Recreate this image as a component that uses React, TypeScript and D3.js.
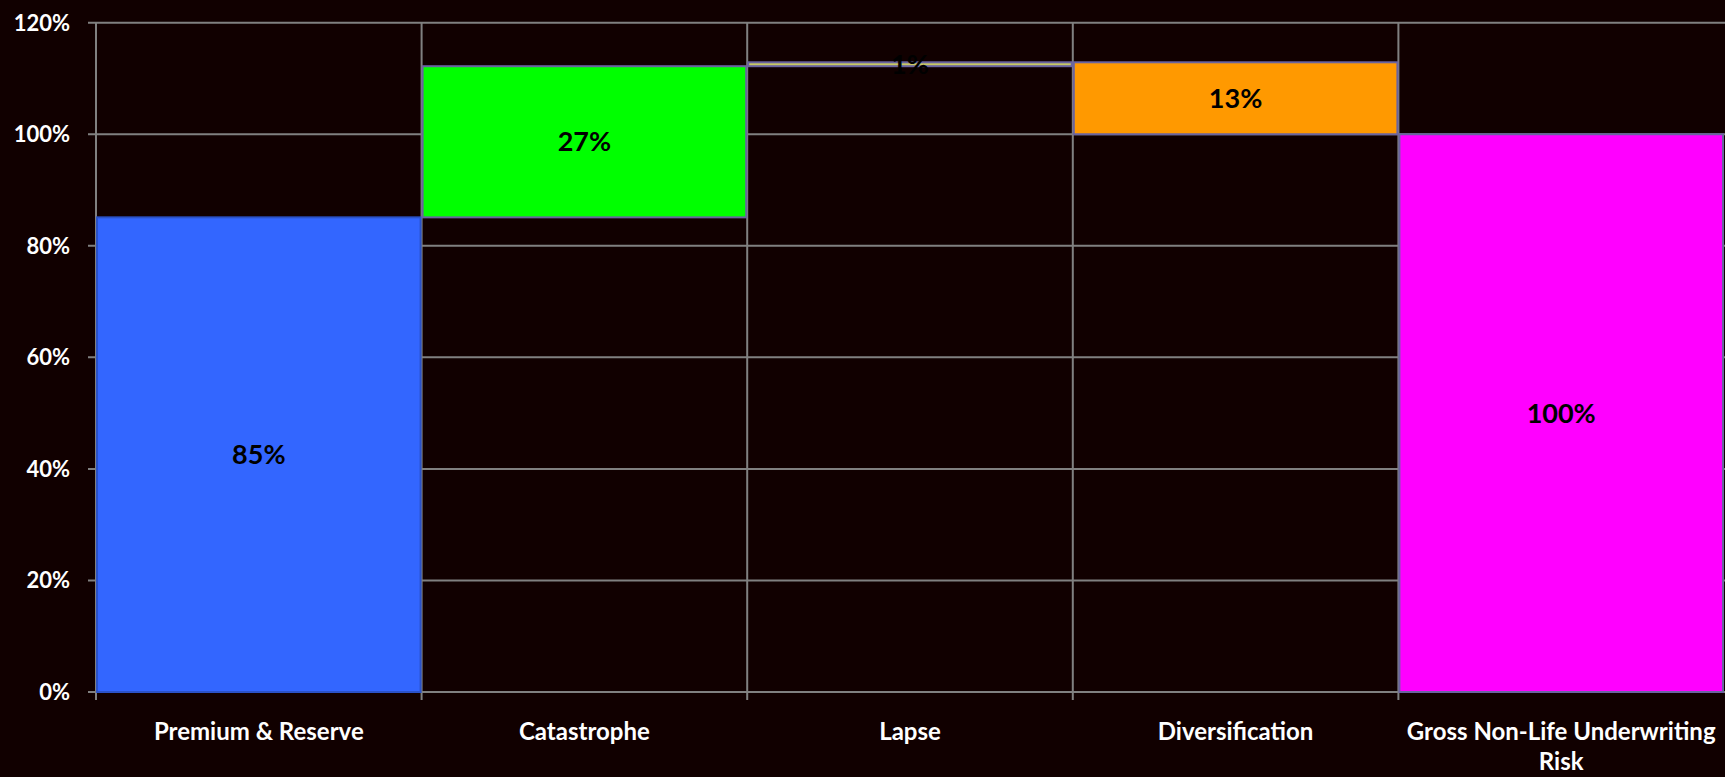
import React from "react";
import * as d3 from "d3";

const categories = [
  "Premium & Reserve",
  "Catastrophe",
  "Lapse",
  "Diversification",
  "Gross Non-Life Underwriting Risk",
];
// step values (last is the total)
const values = [85.1, 27.1, 0.7, -12.9, 100];
const isTotal = [false, false, false, false, true];
const valueLabels = ["85%", "27%", "1%", "13%", "100%"];
const fills = ["#3366FF", "#00FF00", "#C8C864", "#FF9900", "#FF00FF"];
const strokes = ["#2B52C8", "#6A64A0", "#6A64A0", "#6A64A0", "#6A64A0"];
const yTicks = [0, 20, 40, 60, 80, 100, 120];

const W = 1725;
const H = 777;
const FONT = "Lato, 'Open Sans', 'DejaVu Sans', sans-serif";
const BG = "#110000";
const GRID = "#808080";
const CAT_SIZE = 24;

function measure(text: string, size: number) {
  const c = document.createElement("canvas").getContext("2d")!;
  c.font = `bold ${size}px Lato`;
  return c.measureText(text).width;
}

function wrap(text: string, maxW: number, size: number): string[] {
  const words = text.split(" ");
  const lines: string[] = [];
  let cur = "";
  for (const w of words) {
    const t = cur ? cur + " " + w : w;
    if (measure(t, size) > maxW && cur) {
      lines.push(cur);
      cur = w;
    } else cur = t;
  }
  if (cur) lines.push(cur);
  return lines;
}

export default function App() {
  const x = d3.scaleBand<string>().domain(categories).range([96, 1724]).padding(0);
  const y = d3.scaleLinear().domain([0, 120]).range([692, 22.7]);

  let run = 0;
  const segs = values.map((v, i) => {
    let a: number, b: number;
    if (isTotal[i]) {
      a = 0;
      b = v;
      run = v;
    } else {
      a = run;
      b = run + v;
      run = b;
    }
    return { cat: categories[i], lo: Math.min(a, b), hi: Math.max(a, b), i };
  });

  const bw = x.bandwidth();
  const boundaries = categories.map((c) => x(c)!);

  return (
    <svg
      width={W}
      height={H}
      style={{ position: "absolute", left: 0, top: 0, background: BG }}
    >
      <rect x={0} y={0} width={W} height={H} fill={BG} />
      {/* horizontal gridlines + ticks */}
      {yTicks.map((t) => (
        <g key={t}>
          <line x1={88} x2={W} y1={y(t)} y2={y(t)} stroke={GRID} strokeWidth={2} />
          <text
            x={70}
            y={y(t)}
            dy="0.36em"
            textAnchor="end"
            fill="#ffffff"
            fontFamily={FONT}
            fontWeight="bold"
            fontSize={22}
          >
            {t}%
          </text>
        </g>
      ))}
      {/* vertical gridlines + ticks */}
      {boundaries.map((bx, i) => (
        <line key={i} x1={bx} x2={bx} y1={y(120)} y2={700} stroke={GRID} strokeWidth={2} />
      ))}
      {/* bars */}
      {segs.map((s) => (
        <rect
          key={s.cat}
          x={x(s.cat)! + 1}
          y={y(s.hi)}
          width={bw - 2}
          height={Math.max(1, y(s.lo) - y(s.hi))}
          fill={fills[s.i]}
          stroke={strokes[s.i]}
          strokeWidth={2}
        />
      ))}
      {/* value labels */}
      {segs.map((s) => (
        <text
          key={"l" + s.cat}
          x={x(s.cat)! + bw / 2}
          y={(y(s.hi) + y(s.lo)) / 2}
          dy="0.36em"
          textAnchor="middle"
          fill="#000000"
          fontFamily={FONT}
          fontWeight="bold"
          fontSize={27}
        >
          {valueLabels[s.i]}
        </text>
      ))}
      {/* category labels */}
      {categories.map((c) => {
        const lines = wrap(c, bw, CAT_SIZE);
        return (
          <text
            key={"c" + c}
            x={x(c)! + bw / 2}
            y={740}
            textAnchor="middle"
            fill="#ffffff"
            fontFamily={FONT}
            fontWeight="bold"
            fontSize={CAT_SIZE}
          >
            {lines.map((ln, k) => (
              <tspan key={k} x={x(c)! + bw / 2} dy={k === 0 ? 0 : 30}>
                {ln}
              </tspan>
            ))}
          </text>
        );
      })}
    </svg>
  );
}
